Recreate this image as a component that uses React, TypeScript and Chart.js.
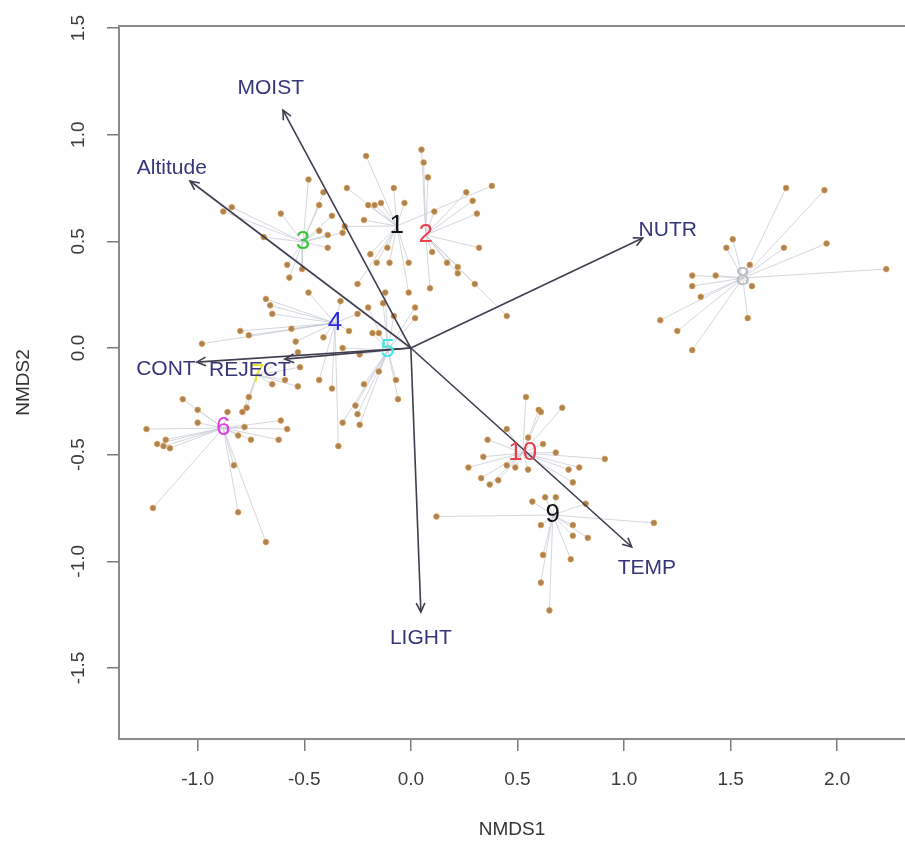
import React, { useEffect, useRef } from "react";
import { Chart, registerables } from "chart.js";

Chart.register(...registerables);

// ---- axes ----
const xTicks = [-1.0, -0.5, 0.0, 0.5, 1.0, 1.5, 2.0];
const yTicks = [-1.5, -1.0, -0.5, 0.0, 0.5, 1.0, 1.5];
const xRange = [-1.369, 2.318];
const yRange = [-1.833, 1.5096];
const xTitle = "NMDS1";
const yTitle = "NMDS2";

// ---- site groups (ordispider) ----
const groupLabels = ["1", "2", "3", "4", "5", "6", "7", "8", "9", "10"];
const groupColors = ["#111111", "#e8404c", "#3cc43c", "#2a2ad8", "#3fe6e6", "#e23ee2", "#e6e23a", "#bdbdbd", "#111111", "#e8404c"];
const centerX = [-0.066, 0.07, -0.506, -0.356, -0.108, -0.88, -0.722, 1.557, 0.666, 0.525];
const centerY = [0.572, 0.53, 0.497, 0.117, -0.01, -0.375, -0.127, 0.328, -0.783, -0.492];

const g1 = [[-0.21, 0.9], [-0.08, 0.75], [-0.3, 0.75], [-0.2, 0.67], [-0.17, 0.67], [-0.14, 0.68], [-0.03, 0.68], [-0.22, 0.6], [-0.31, 0.57], [-0.11, 0.47], [-0.19, 0.44], [-0.16, 0.4], [-0.1, 0.4], [-0.01, 0.4], [0.38, 0.76], [-0.25, 0.3], [-0.01, 0.26]];
const g2 = [[0.05, 0.93], [0.06, 0.87], [0.08, 0.8], [0.11, 0.64], [0.31, 0.63], [0.32, 0.47], [0.1, 0.45], [0.17, 0.4], [0.22, 0.38], [0.22, 0.35], [0.3, 0.3], [0.09, 0.28], [0.45, 0.15], [0.26, 0.73], [0.29, 0.69]];
const g3 = [[-0.88, 0.64], [-0.84, 0.66], [-0.61, 0.63], [-0.48, 0.79], [-0.41, 0.73], [-0.43, 0.67], [-0.37, 0.62], [-0.69, 0.52], [-0.43, 0.55], [-0.39, 0.53], [-0.32, 0.54], [-0.39, 0.47], [-0.58, 0.39], [-0.57, 0.33], [-0.51, 0.37]];
const g4 = [[-0.56, 0.09], [-0.54, 0.03], [-0.41, 0.05], [-0.29, 0.08], [-0.33, 0.22], [-0.25, 0.16], [-0.68, 0.23], [-0.66, 0.2], [-0.65, 0.16], [-0.48, 0.26], [-0.8, 0.08], [-0.76, 0.06], [-0.98, 0.02], [-0.37, -0.19], [-0.34, -0.46], [-0.43, -0.15]];
const g5 = [[-0.2, 0.19], [-0.13, 0.21], [-0.12, 0.26], [-0.08, 0.15], [0.02, 0.19], [0.02, 0.14], [-0.18, 0.07], [-0.15, 0.07], [-0.32, 0.0], [-0.24, -0.03], [-0.15, -0.11], [-0.22, -0.17], [-0.07, -0.15], [-0.06, -0.24], [-0.26, -0.27], [-0.25, -0.31], [-0.24, -0.36], [-0.32, -0.35]];
const g6 = [[-1.24, -0.38], [-1.19, -0.45], [-1.16, -0.46], [-1.13, -0.47], [-1.15, -0.43], [-1.07, -0.24], [-1.0, -0.29], [-1.0, -0.35], [-0.86, -0.3], [-0.78, -0.37], [-0.81, -0.41], [-0.75, -0.43], [-0.83, -0.55], [-1.21, -0.75], [-0.81, -0.77], [-0.68, -0.91], [-0.61, -0.34], [-0.58, -0.38], [-0.62, -0.43]];
const g7 = [[-0.53, -0.02], [-0.52, -0.09], [-0.59, -0.15], [-0.65, -0.17], [-0.53, -0.18], [-0.76, -0.23], [-0.77, -0.28], [-0.79, -0.3]];
const g8 = [[1.76, 0.75], [1.94, 0.74], [1.51, 0.51], [1.48, 0.47], [1.75, 0.47], [1.95, 0.49], [1.59, 0.39], [2.23, 0.37], [1.32, 0.34], [1.43, 0.34], [1.32, 0.29], [1.6, 0.29], [1.36, 0.24], [1.58, 0.14], [1.17, 0.13], [1.25, 0.08], [1.32, -0.01]];
const g9 = [[0.12, -0.79], [1.14, -0.82], [0.63, -0.7], [0.68, -0.7], [0.57, -0.72], [0.82, -0.73], [0.61, -0.83], [0.76, -0.83], [0.76, -0.88], [0.83, -0.89], [0.62, -0.97], [0.75, -0.99], [0.61, -1.1], [0.65, -1.23]];
const g10 = [[0.54, -0.23], [0.6, -0.29], [0.61, -0.3], [0.71, -0.28], [0.45, -0.38], [0.55, -0.42], [0.36, -0.43], [0.62, -0.45], [0.68, -0.49], [0.34, -0.51], [0.27, -0.56], [0.45, -0.55], [0.49, -0.56], [0.55, -0.57], [0.33, -0.61], [0.37, -0.64], [0.41, -0.62], [0.91, -0.52], [0.74, -0.57], [0.79, -0.56], [0.76, -0.63]];
const groups = [g1, g2, g3, g4, g5, g6, g7, g8, g9, g10];

// ---- environmental vectors (envfit) ----
const envNames = ["MOIST", "Altitude", "NUTR", "TEMP", "LIGHT", "CONT", "REJECT"];
const envX = [-0.6, -1.036, 1.088, 1.036, 0.047, -1.004, -0.591];
const envY = [1.115, 0.783, 0.516, -0.933, -1.238, -0.066, -0.052];
const envLabelX = [-0.657, -1.121, 1.205, 1.107, 0.047, -1.149, -0.755];
const envLabelY = [1.219, 0.844, 0.553, -1.031, -1.36, -0.098, -0.103];

const FONT = "'Liberation Sans', Arial, sans-serif";

function zeroPad(s: any) {
  s.paddingLeft = 0;
  s.paddingRight = 0;
  s.paddingTop = 0;
  s.paddingBottom = 0;
}

export default function App() {
  const ref = useRef<HTMLCanvasElement | null>(null);

  useEffect(() => {
    document.body.style.margin = "0";
    const canvas = ref.current;
    if (!canvas) return;

    const spiderSets = groups.map((pts, gi) => {
      const data: { x: number; y: number }[] = [];
      pts.forEach((p) => {
        data.push({ x: centerX[gi], y: centerY[gi] });
        data.push({ x: p[0], y: p[1] });
        data.push({ x: NaN, y: NaN });
      });
      return {
        type: "scatter" as const,
        label: "spider" + groupLabels[gi],
        data,
        showLine: true,
        spanGaps: false,
        borderColor: "rgba(200,205,214,0.8)",
        borderWidth: 1,
        pointRadius: 0,
        order: 3,
      };
    });

    const pointSets = groups.map((pts, gi) => ({
      type: "scatter" as const,
      label: "sites" + groupLabels[gi],
      data: pts.map((p) => ({ x: p[0], y: p[1] })),
      pointRadius: 2.8,
      backgroundColor: "#a5845a",
      borderColor: "rgba(226,150,66,0.85)",
      borderWidth: 1,
      order: 2,
    }));

    const arrowSets = envNames.map((n, i) => ({
      type: "scatter" as const,
      label: n,
      data: [
        { x: 0, y: 0 },
        { x: envX[i], y: envY[i] },
      ],
      showLine: true,
      borderColor: "#3e3e50",
      borderWidth: 1.6,
      pointRadius: 0,
      order: 1,
    }));

    const overlay = {
      id: "overlay",
      afterDatasetsDraw(chart: any) {
        const { ctx, chartArea, scales } = chart;
        const xs = scales.x;
        const ys = scales.y;
        ctx.save();
        // frame top line
        ctx.strokeStyle = "#8a8a8a";
        ctx.lineWidth = 2;
        ctx.beginPath();
        ctx.moveTo(chartArea.left, chartArea.top);
        ctx.lineTo(chartArea.right, chartArea.top);
        ctx.stroke();

        // group labels
        ctx.font = "26px " + FONT;
        ctx.textAlign = "center";
        ctx.textBaseline = "middle";
        groupLabels.forEach((lab, i) => {
          ctx.fillStyle = groupColors[i];
          ctx.fillText(lab, xs.getPixelForValue(centerX[i]), ys.getPixelForValue(centerY[i]));
        });

        // arrow heads
        ctx.strokeStyle = "#3e3e50";
        ctx.lineWidth = 1.6;
        const x0 = xs.getPixelForValue(0);
        const y0 = ys.getPixelForValue(0);
        envNames.forEach((_n, i) => {
          const x1 = xs.getPixelForValue(envX[i]);
          const y1 = ys.getPixelForValue(envY[i]);
          const ang = Math.atan2(y1 - y0, x1 - x0);
          const L = 10;
          const a = Math.PI / 7;
          ctx.beginPath();
          ctx.moveTo(x1 - L * Math.cos(ang - a), y1 - L * Math.sin(ang - a));
          ctx.lineTo(x1, y1);
          ctx.lineTo(x1 - L * Math.cos(ang + a), y1 - L * Math.sin(ang + a));
          ctx.stroke();
        });

        // env labels
        ctx.font = "21px " + FONT;
        ctx.fillStyle = "#35357a";
        envNames.forEach((n, i) => {
          ctx.fillText(n, xs.getPixelForValue(envLabelX[i]), ys.getPixelForValue(envLabelY[i]));
        });
        ctx.restore();
      },
    };

    const chart = new Chart(canvas, {
      type: "scatter",
      data: { datasets: [...arrowSets, ...pointSets, ...spiderSets] as any },
      options: {
        animation: false,
        responsive: false,
        layout: { autoPadding: false, padding: { top: 26, right: 0, left: 0, bottom: 0 } },
        plugins: { legend: { display: false }, tooltip: { enabled: false } },
        scales: {
          x: {
            type: "linear",
            min: xRange[0],
            max: xRange[1],
            afterBuildTicks: (s: any) => {
              s.ticks = xTicks.map((v) => ({ value: v }));
            },
            afterFit: (s: any) => {
              s.height = 109;
              zeroPad(s);
            },
            grid: { display: true, drawOnChartArea: false, drawTicks: true, tickLength: 12, color: "#7a7a7a", lineWidth: 1.5 },
            border: { display: true, color: "#8a8a8a", width: 2 },
            ticks: {
              padding: 17,
              color: "#3c3c3c",
              font: { family: FONT, size: 19 },
              callback: (v: any) => Number(v).toFixed(1),
              maxRotation: 0,
              minRotation: 0,
            },
            title: { display: true, text: xTitle, color: "#333", font: { family: FONT, size: 19 }, padding: { top: 0, bottom: 7 } },
          },
          y: {
            type: "linear",
            min: yRange[0],
            max: yRange[1],
            afterBuildTicks: (s: any) => {
              s.ticks = yTicks.map((v) => ({ value: v }));
            },
            afterFit: (s: any) => {
              s.width = 119;
              zeroPad(s);
            },
            grid: { display: true, drawOnChartArea: false, drawTicks: true, tickLength: 12, color: "#7a7a7a", lineWidth: 1.5 },
            border: { display: true, color: "#8a8a8a", width: 2 },
            ticks: {
              padding: 12,
              color: "#3c3c3c",
              crossAlign: "center",
              minRotation: 90,
              maxRotation: 90,
              font: { family: FONT, size: 19 },
              callback: (v: any) => Number(v).toFixed(1),
            },
            title: { display: true, text: yTitle, color: "#333", font: { family: FONT, size: 19 }, padding: { top: 12, bottom: 0 } },
          },
        },
      },
      plugins: [overlay],
    });

    return () => chart.destroy();
  }, []);

  return (
    <div style={{ width: 905, height: 848, background: "#fff" }}>
      <canvas ref={ref} width={905} height={848} style={{ display: "block" }} />
    </div>
  );
}
